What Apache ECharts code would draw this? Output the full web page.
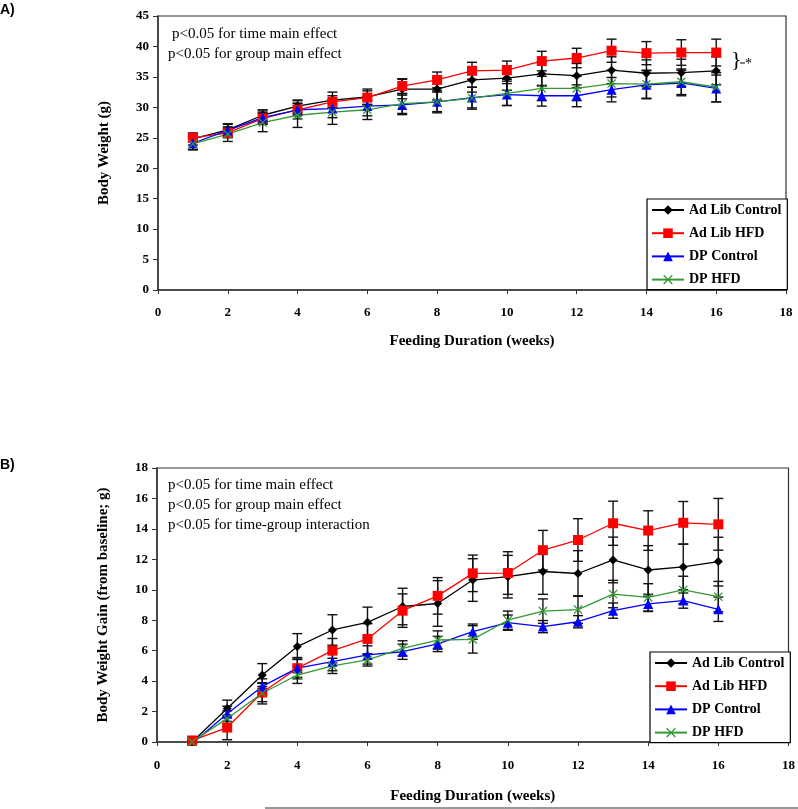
<!DOCTYPE html>
<html>
<head>
<meta charset="utf-8">
<script src="https://cdn.jsdelivr.net/npm/echarts@6/dist/echarts.min.js"></script>
<style>
html,body{margin:0;padding:0;background:#fff;}
#chart{width:798px;height:809px;}
</style>
</head>
<body>
<div id="chart"></div>
<script>
var weeks = [1,2,3,4,5,6,7,8,9,10,11,12,13,14,15,16];
var seriesNames = ['Ad Lib Control','Ad Lib HFD','DP Control','DP HFD'];

// Panel A: body weight (g)
var bwAdLibControl = [24.8,26.3,28.7,30.2,31.2,31.7,33.0,33.0,34.5,34.8,35.5,35.2,36.1,35.6,35.7,36.0];
var bwAdLibHFD     = [25.0,25.8,28.2,29.6,30.9,31.6,33.5,34.5,36.0,36.1,37.6,38.1,39.3,38.9,39.0,39.0];
var bwDPControl    = [24.1,26.2,28.3,29.6,29.8,30.2,30.4,30.9,31.6,32.1,31.9,31.9,32.9,33.7,34.0,33.1];
var bwDPHFD        = [24.0,25.6,27.5,28.7,29.2,29.6,30.6,30.9,31.5,32.3,33.1,33.1,33.9,33.8,34.2,33.3];
var bwErrAdLibControl = [1.0,1.0,0.9,1.0,1.3,1.3,1.6,1.8,2.0,2.0,2.0,2.0,2.2,2.2,2.2,2.3];
var bwErrAdLibHFD     = [0.6,0.8,0.9,1.0,1.0,1.1,1.2,1.3,1.4,1.5,1.6,1.6,1.9,1.9,2.1,2.2];
var bwErrDPControl    = [1.0,1.0,1.1,1.5,1.5,1.6,1.6,1.6,1.7,1.8,1.7,1.8,2.0,2.3,2.1,2.2];
var bwErrDPHFD        = [1.0,1.2,1.5,2.0,2.0,1.6,1.6,1.8,1.8,2.0,2.0,2.0,2.2,2.3,2.1,2.4];

// Panel B: body weight gain (g)
var gainAdLibControl = [0.0,2.2,4.4,6.27,7.36,7.86,8.9,9.1,10.64,10.86,11.2,11.07,11.96,11.3,11.5,11.85];
var gainAdLibHFD     = [0.1,0.95,3.25,4.85,6.0,6.77,8.63,9.6,11.08,11.1,12.6,13.27,14.37,13.89,14.4,14.3];
var gainDPControl    = [-0.1,1.85,3.65,4.85,5.28,5.72,5.93,6.44,7.25,7.84,7.58,7.9,8.63,9.07,9.29,8.72];
var gainDPHFD        = [0.0,1.55,3.2,4.4,5.0,5.39,6.15,6.7,6.74,8.0,8.6,8.7,9.72,9.5,9.99,9.55];
var gainErrAdLibControl = [0.1,0.55,0.75,0.85,1.0,1.0,1.2,1.5,1.4,1.4,1.5,1.5,1.5,1.6,1.5,1.6];
var gainErrAdLibHFD     = [0.1,0.8,0.6,0.7,0.8,1.0,1.1,1.2,1.2,1.4,1.3,1.4,1.45,1.3,1.4,1.7];
var gainErrDPControl    = [0.1,0.5,0.5,0.6,0.6,0.6,0.5,0.5,0.5,0.5,0.4,0.4,0.5,0.5,0.5,0.8];
var gainErrDPHFD        = [0.1,0.5,0.7,0.55,0.5,0.4,0.5,0.6,0.9,0.6,0.8,0.9,0.9,0.9,0.9,1.0];

var colors = ['#000000','#ff0000','#0000ff','#339933'];
var crossPath = 'path://M0,1 L1,0 L5,4 L9,0 L10,1 L6,5 L10,9 L9,10 L5,6 L1,10 L0,9 L4,5 Z';
var symbols = ['diamond','rect','triangle',crossPath];
var symSizes = [9,10,10,9];

var serif = '"Liberation Serif","Times New Roman",serif';

function pairs(m){ return weeks.map(function(w,i){ return [w,m[i]]; }); }
function errData(m,e){ return weeks.map(function(w,i){ return [w,m[i]-e[i],m[i]+e[i]]; }); }

function errSeries(idx,m,e){
  return {
    type:'custom', xAxisIndex:idx, yAxisIndex:idx, z:3, silent:true,
    encode:{x:0,y:[1,2]},
    data:errData(m,e),
    renderItem:function(params,api){
      var x=api.value(0), lo=api.value(1), hi=api.value(2);
      var p1=api.coord([x,lo]), p2=api.coord([x,hi]);
      var w=5, st={stroke:'#111',lineWidth:1.4};
      return {type:'group',children:[
        {type:'line',shape:{x1:p1[0],y1:p1[1],x2:p2[0],y2:p2[1]},style:st},
        {type:'line',shape:{x1:p1[0]-w,y1:p1[1],x2:p1[0]+w,y2:p1[1]},style:st},
        {type:'line',shape:{x1:p2[0]-w,y1:p2[1],x2:p2[0]+w,y2:p2[1]},style:st}
      ]};
    }
  };
}
function lineSeries(idx,k,m){
  return {
    type:'line', name:seriesNames[k], xAxisIndex:idx, yAxisIndex:idx, z:4,
    data:pairs(m), symbol:symbols[k], symbolSize:symSizes[k], showSymbol:true,
    lineStyle:{color:colors[k],width:1.3},
    itemStyle:{color:colors[k]},
    animation:false
  };
}

var axisLabelStyle = {color:'#000',fontFamily:serif,fontWeight:'bold',fontSize:13};
var nameStyle = {color:'#000',fontFamily:serif,fontWeight:'bold',fontSize:15};

function xAxis(idx,gap,margin){
  return {type:'value',gridIndex:idx,min:0,max:18,interval:2,
    name:'Feeding Duration (weeks)',nameLocation:'middle',nameGap:gap,nameTextStyle:nameStyle,
    axisLine:{lineStyle:{color:'#333',width:1.5}},axisTick:{show:true,length:4,lineStyle:{color:'#333'}},
    axisLabel:Object.assign({margin:margin},axisLabelStyle),splitLine:{show:false}};
}
function yAxis(idx,max,interval,name){
  return {type:'value',gridIndex:idx,min:0,max:max,interval:interval,
    name:name,nameLocation:'middle',nameGap:46,nameTextStyle:nameStyle,
    axisLine:{show:true,lineStyle:{color:'#333',width:1.5}},axisTick:{show:true,length:5,lineStyle:{color:'#333'}},
    axisLabel:Object.assign({margin:9},axisLabelStyle),splitLine:{show:false}};
}
function legend(left,top){
  return {show:true,orient:'vertical',left:left,top:top,data:seriesNames,
    backgroundColor:'#fff',borderColor:'#000',borderWidth:1.2,borderRadius:0,
    padding:[4,6,3,4],itemWidth:32,itemHeight:12,itemGap:9.2,selectedMode:false,
    textStyle:{color:'#000',fontFamily:serif,fontWeight:'bold',fontSize:14}};
}
function txt(x,y,s,size,extra){
  return {type:'text',left:x,top:y,z:10,style:Object.assign({text:s,fill:'#000',font:(size||15)+'px '+serif},extra||{})};
}

var option = {
  animation:false,
  backgroundColor:'#fff',
  grid:[
    {left:158,top:16,width:628,height:274,show:true,borderColor:'#333',borderWidth:1.2,backgroundColor:'transparent'},
    {left:157,top:468,width:633,height:274,show:true,borderColor:'#333',borderWidth:1.2,backgroundColor:'transparent'}
  ],
  xAxis:[xAxis(0,44,16),xAxis(1,47,17)],
  yAxis:[yAxis(0,45,5,'Body Weight (g)'),yAxis(1,18,2,'Body Weight Gain (from baseline; g)')],
  legend:[legend(647,199),legend(650,652)],
  series:[
    errSeries(0,bwAdLibControl,bwErrAdLibControl),
    errSeries(0,bwAdLibHFD,bwErrAdLibHFD),
    errSeries(0,bwDPControl,bwErrDPControl),
    errSeries(0,bwDPHFD,bwErrDPHFD),
    lineSeries(0,0,bwAdLibControl),
    lineSeries(0,1,bwAdLibHFD),
    lineSeries(0,2,bwDPControl),
    lineSeries(0,3,bwDPHFD),
    errSeries(1,gainAdLibControl,gainErrAdLibControl),
    errSeries(1,gainAdLibHFD,gainErrAdLibHFD),
    errSeries(1,gainDPControl,gainErrDPControl),
    errSeries(1,gainDPHFD,gainErrDPHFD),
    lineSeries(1,0,gainAdLibControl),
    lineSeries(1,1,gainAdLibHFD),
    lineSeries(1,2,gainDPControl),
    lineSeries(1,3,gainDPHFD)
  ],
  graphic:[
    {type:'text',left:0,top:3,style:{text:'A)',fill:'#000',font:'bold 14px "Liberation Sans",Arial,sans-serif'}},
    {type:'text',left:0,top:458,style:{text:'B)',fill:'#000',font:'bold 14px "Liberation Sans",Arial,sans-serif'}},
    txt(172,27,'p<0.05 for time main effect'),
    txt(168,47,'p<0.05 for group main effect'),
    txt(168,478,'p<0.05 for time main effect'),
    txt(168,498,'p<0.05 for group main effect'),
    txt(168,518,'p<0.05 for time-group interaction'),
    {type:'text',left:731,top:49,z:10,style:{text:'}',fill:'#000',font:'22px '+serif}},
    {type:'line',z:10,shape:{x1:740,y1:63,x2:745,y2:63},style:{stroke:'#000',lineWidth:1}},
    {type:'text',left:745,top:57,z:10,style:{text:'*',fill:'#000',font:'14px '+serif}},
    {type:'line',z:10,shape:{x1:265,y1:808,x2:798,y2:808},style:{stroke:'#333',lineWidth:1}}
  ]
};

var chart = echarts.init(document.getElementById('chart'),null,{renderer:'canvas'});
chart.setOption(option);
</script>
</body>
</html>
